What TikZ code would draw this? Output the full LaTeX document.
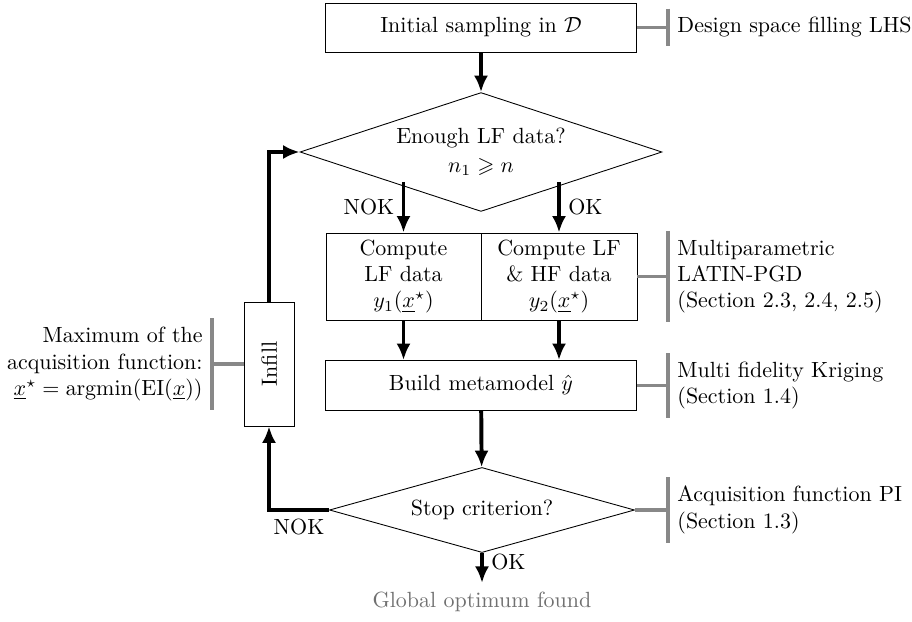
\documentclass[tikz,border=0pt]{standalone}
\usepackage{amssymb}
\usepackage{graphicx}
\usepackage{xcolor}
\usetikzlibrary{shapes.geometric,arrows.meta}
\definecolor{notegray}{HTML}{888888}
\definecolor{endgray}{HTML}{707070}

\tikzset{
	block/.style={draw, thin, align=center, inner sep=0pt},
	decision/.style={draw, thin, diamond, aspect=3, align=center, inner sep=0pt},
	flow/.style={line width=1.8pt, -{Latex[length=7.5pt,width=6.4pt]}},
	note/.style={align=left, anchor=west, inner xsep=4.1pt, inner ysep=3.8pt},
	notebar/.style={color=notegray, line width=1.8pt},
}

\begin{document}
\begin{tikzpicture}[x=0.455pt, y=-0.455pt]
		\useasboundingbox (0,0) rectangle (912,621);
		% flow chart
		\node[block, minimum width=141.5pt, minimum height=22.3pt] (init) at (481,27.5) {Initial sampling in $\mathcal{D}$};
		\node[decision, minimum width=164.7pt, minimum height=54.1pt] (enough) at (481,152) {Enough LF data?\\[1pt] $n_1\geqslant n$};
		\node[block, minimum width=70.5pt, minimum height=39.6pt] (lfdata) at (403.5,276.5) {Compute\\LF data\\$y_1(\underline{x}^\star)$};
		\node[block, minimum width=71pt, minimum height=39.6pt] (hfdata) at (559,276.5) {Compute LF\\\& HF data\\$y_2(\underline{x}^\star)$};
		\node[block, minimum width=141.5pt, minimum height=22.75pt] (meta) at (481,385.5) {Build metamodel $\hat{y}$};
		\node[decision, minimum width=138.8pt, minimum height=38.7pt] (stop) at (482,510) {Stop criterion?};
		\node[text=endgray, inner sep=4pt] (optimum) at (482,602) {Global optimum found};
		\node[block, minimum width=22.75pt, minimum height=56.4pt] (infill) at (269,364) {\rotatebox{90}{Infill}};
		\draw[flow] (init) -- (enough);
		\draw[flow] (lfdata.north |- enough.south west) -- node[left] {NOK} (lfdata.north);
		\draw[flow] (hfdata.north |- enough.south east) -- node[right] {OK} (hfdata.north);
		\draw[flow] (lfdata) -- (lfdata |- meta.north);
		\draw[flow] (hfdata) -- (hfdata |- meta.north);
		\draw[flow] (meta) -- (stop);
		\draw[flow] (stop) -- node[right, pos=0.3] {OK} (optimum);
		\draw[flow] (stop.west) -| node[below, pos=0.25] {NOK} (infill.south);
		\draw[flow] (infill.north) |- (enough.west);
		% side notes
		\node[note] (lhs) at (668,27.5) {Design space filling LHS};
		\node[note] (pgd) at (668,276.5) {Multiparametric\\LATIN-PGD\\(Section 2.3, 2.4, 2.5)};
		\node[note] (kriging) at (668,385.5) {Multi fidelity Kriging\\(Section 1.4)};
		\node[note] (pi) at (668,510) {Acquisition function PI\\(Section 1.3)};
		\node[note, anchor=east, align=right] (acqmax) at (212,364) {Maximum of the\\acquisition function:\\$\underline{x}^\star=\mathrm{argmin}(\mathrm{EI}(\underline{x}))$};
		\draw[notebar] (lhs.north west) -- (lhs.south west);
		\draw[notebar] (pgd.north west) -- (pgd.south west);
		\draw[notebar] (kriging.north west) -- (kriging.south west);
		\draw[notebar] (pi.north west) -- (pi.south west);
		\draw[notebar] (acqmax.north east) -- (acqmax.south east);
		\draw[notebar] (init.east) -- (lhs.west);
		\draw[notebar] (hfdata.east) -- (pgd.west);
		\draw[notebar] (meta.east) -- (kriging.west);
		\draw[notebar] (stop.east) -- (pi.west);
		\draw[notebar] (infill.west) -- (acqmax.east);
	\end{tikzpicture}
\end{document}
